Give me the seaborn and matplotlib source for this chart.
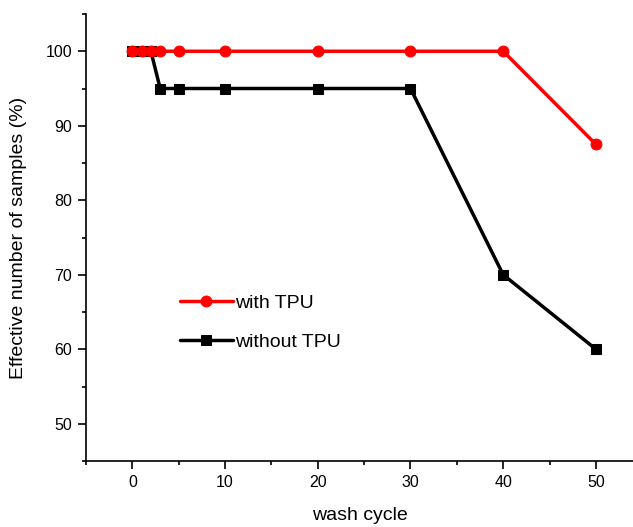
import numpy as np
import pandas as pd
import matplotlib
matplotlib.use("Agg")
import matplotlib.pyplot as plt
from matplotlib.ticker import MultipleLocator
import seaborn as sns

# wash cycle vs effective number of samples (%)
cycles_tpu = [0, 1, 2, 3, 5, 10, 20, 30, 40, 50]
eff_tpu = [100, 100, 100, 100, 100, 100, 100, 100, 100, 87.5]

cycles_no_tpu = [0, 1, 2, 3, 5, 10, 20, 30, 40, 50]
eff_no_tpu = [100, 100, 100, 95, 95, 95, 95, 95, 70, 60]

series_names = ["with TPU", "without TPU"]


def build_frame():
    df_tpu = pd.DataFrame({"cycle": cycles_tpu, "eff": eff_tpu, "group": series_names[0]})
    df_no = pd.DataFrame({"cycle": cycles_no_tpu, "eff": eff_no_tpu, "group": series_names[1]})
    return df_tpu, df_no


def plot_chart(df_tpu, df_no):
    sns.set_style("ticks")
    plt.rcParams["font.family"] = ["Liberation Sans", "DejaVu Sans"]
    # origin-like: everything pure black
    for key in ["text.color", "axes.labelcolor", "xtick.color", "ytick.color", "axes.edgecolor"]:
        plt.rcParams[key] = "black"

    fig = plt.figure(figsize=(6.33, 5.27), dpi=100)
    ax = fig.add_axes([86 / 633, (527 - 461) / 527, (633 - 86) / 633, (461 - 14) / 527])

    # black first so red sits on top where they overlap
    sns.lineplot(data=df_no, x="cycle", y="eff", ax=ax, color="black",
                 marker="s", markersize=6.5, markeredgecolor="black",
                 linewidth=2.5, label=series_names[1])
    sns.lineplot(data=df_tpu, x="cycle", y="eff", ax=ax, color="#ff0000",
                 marker="o", markersize=7.8, markeredgecolor="#ff0000",
                 linewidth=2.5, label=series_names[0])

    ax.set_xlim(-5, 54)
    ax.set_ylim(45, 105)
    ax.xaxis.set_major_locator(MultipleLocator(10))
    ax.xaxis.set_minor_locator(MultipleLocator(5))
    ax.yaxis.set_major_locator(MultipleLocator(10))
    ax.yaxis.set_minor_locator(MultipleLocator(5))
    ax.tick_params(which="major", direction="out", length=5.5, width=1.2, labelsize=11.5, pad=4.5)
    ax.tick_params(which="minor", direction="out", length=3, width=1.2)

    for side in ["top", "right"]:
        ax.spines[side].set_visible(False)
    for side in ["left", "bottom"]:
        ax.spines[side].set_linewidth(1.2)

    ax.set_xlabel("wash cycle", fontsize=14, labelpad=12)
    ax.set_ylabel("Effective number of samples (%)", fontsize=14, labelpad=13)

    handles, labels = ax.get_legend_handles_labels()
    order = [labels.index(n) for n in series_names]
    ax.legend([handles[i] for i in order], [labels[i] for i in order],
              loc="center left", bbox_to_anchor=(0.172, 0.31), frameon=False,
              borderaxespad=0, borderpad=0,
              fontsize=14, handlelength=2.7, handletextpad=0.15, labelspacing=1.1)

    fig.savefig("out.png", dpi=100)


if __name__ == "__main__":
    df_tpu, df_no = build_frame()
    plot_chart(df_tpu, df_no)
